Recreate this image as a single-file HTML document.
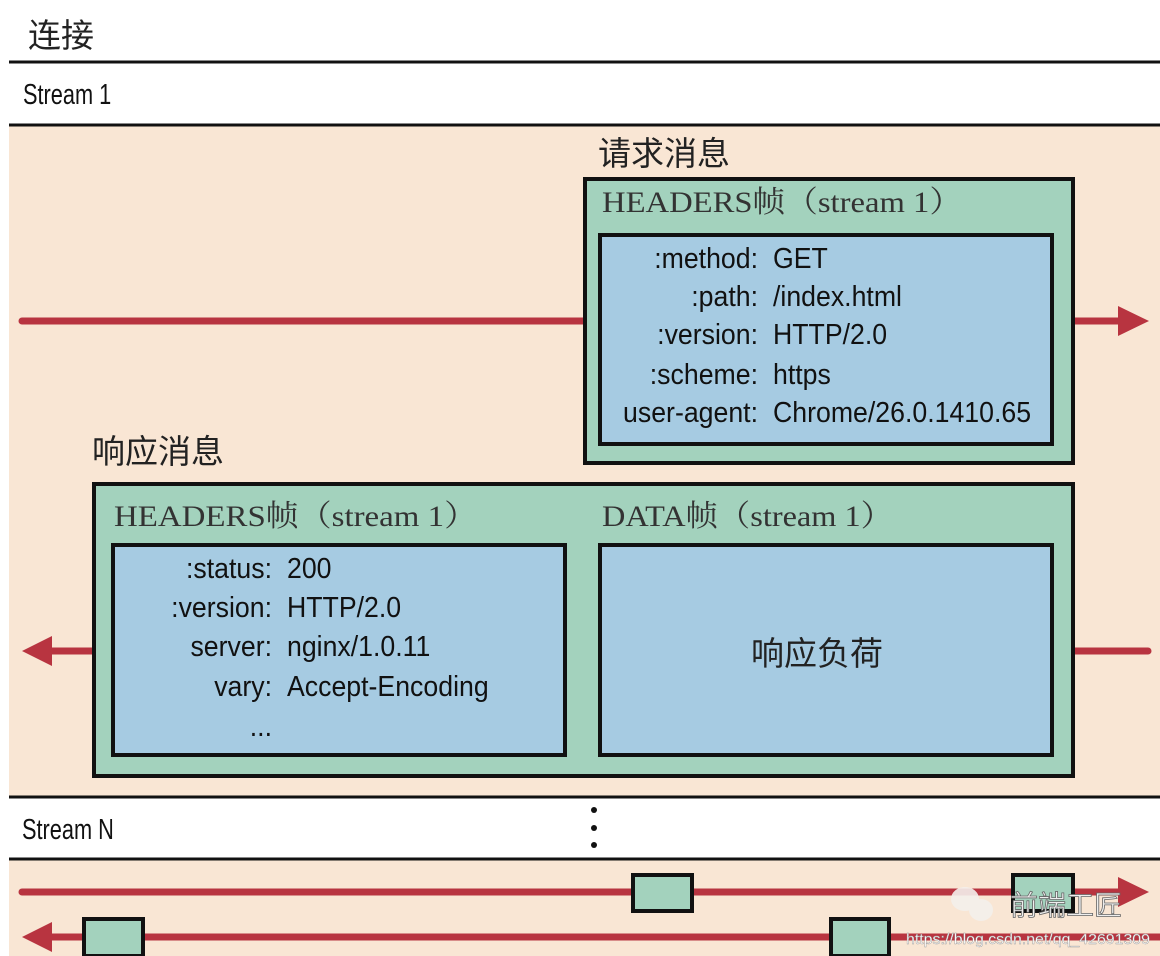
<!DOCTYPE html>
<html><head><meta charset="utf-8"><style>
html,body{margin:0;padding:0;background:#fff;width:1160px;height:956px;overflow:hidden}
.n{font-family:"Liberation Sans Narrow","Liberation Sans",sans-serif;font-size:29px;fill:#111}
.c{font-family:"Liberation Sans","Noto Sans CJK SC",sans-serif;font-size:33px;fill:#222}
.s{font-family:"Liberation Serif","Noto Serif CJK SC",serif;font-size:30px;fill:#333}
</style></head><body>
<svg width="1160" height="956" viewBox="0 0 1160 956" xmlns="http://www.w3.org/2000/svg">
<rect x="9" y="126" width="1151" height="670" fill="#f9e6d4"/>
<rect x="9" y="860" width="1151" height="96" fill="#f9e6d4"/>
<g stroke="#111" stroke-width="3">
<line x1="9" y1="62" x2="1160" y2="62"/>
<line x1="9" y1="125" x2="1160" y2="125"/>
<line x1="9" y1="797" x2="1160" y2="797"/>
<line x1="9" y1="859" x2="1160" y2="859"/>
</g>
<text x="28" y="47" class="c" font-size="34">连接</text>
<g transform="translate(23,0) scale(0.75,1)"><text x="0" y="104" class="n" font-size="31">Stream 1</text></g>
<g transform="translate(22,0) scale(0.75,1)"><text x="0" y="839" class="n" font-size="31">Stream N</text></g>
<g fill="#111"><circle cx="594" cy="810" r="3"/><circle cx="594" cy="828" r="3"/><circle cx="594" cy="845" r="3"/></g>
<g stroke="#b83440" stroke-width="7" stroke-linecap="round">
<line x1="22" y1="321" x2="586" y2="321"/>
<line x1="1072" y1="321" x2="1122" y2="321"/>
<line x1="46" y1="651" x2="95" y2="651"/>
<line x1="1072" y1="651" x2="1148" y2="651"/>
<line x1="22" y1="892" x2="1122" y2="892"/>
<line x1="46" y1="937" x2="1160" y2="937"/>
</g>
<g fill="#b83440">
<polygon points="1118,306 1149,321 1118,336"/>
<polygon points="52,636 22,651 52,666"/>
<polygon points="1118,877 1149,892 1118,907"/>
<polygon points="52,922 22,937 52,952"/>
</g>
<text x="598" y="165" class="c">请求消息</text>
<text x="92" y="463" class="c">响应消息</text>
<g stroke="#111" stroke-width="4">
<rect x="585" y="179" width="488" height="284" fill="#a3d2bd"/>
<rect x="600" y="235" width="452" height="209" fill="#a6cbe2"/>
<rect x="94" y="484" width="979" height="292" fill="#a3d2bd"/>
<rect x="113" y="545" width="452" height="210" fill="#a6cbe2"/>
<rect x="600" y="545" width="452" height="210" fill="#a6cbe2"/>
<rect x="633" y="875" width="59" height="36" fill="#a3d2bd"/>
<rect x="1013" y="875" width="60" height="36" fill="#a3d2bd"/>
<rect x="84" y="919" width="59" height="37" fill="#a3d2bd"/>
<rect x="831" y="919" width="58" height="37" fill="#a3d2bd"/>
</g>
<text x="602" y="212" class="s" textLength="360" lengthAdjust="spacingAndGlyphs">HEADERS帧（stream 1）</text>
<text x="114" y="526" class="s" textLength="363" lengthAdjust="spacingAndGlyphs">HEADERS帧（stream 1）</text>
<text x="602" y="526" class="s" textLength="291" lengthAdjust="spacingAndGlyphs">DATA帧（stream 1）</text>
<g transform="translate(758,0) scale(0.92,1)" class="n" text-anchor="end">
<text x="0" y="268">:method:</text>
<text x="0" y="306">:path:</text>
<text x="0" y="344">:version:</text>
<text x="0" y="384">:scheme:</text>
<text x="0" y="422">user-agent:</text>
</g>
<g transform="translate(272,0) scale(0.92,1)" class="n" text-anchor="end">
<text x="0" y="578">:status:</text>
<text x="0" y="617">:version:</text>
<text x="0" y="656">server:</text>
<text x="0" y="696">vary:</text>
<text x="0" y="736">...</text>
</g>
<g transform="translate(773,0) scale(0.92,1)" class="n">
<text x="0" y="268">GET</text>
<text x="0" y="306">/index.html</text>
<text x="0" y="344">HTTP/2.0</text>
<text x="0" y="384">https</text>
<text x="0" y="422">Chrome/26.0.1410.65</text>
</g>
<g transform="translate(287,0) scale(0.92,1)" class="n">
<text x="0" y="578">200</text>
<text x="0" y="617">HTTP/2.0</text>
<text x="0" y="656">nginx/1.0.11</text>
<text x="0" y="696">Accept-Encoding</text>
</g>
<text x="751" y="665" class="c" font-size="34" fill="#333">响应负荷</text>
<g fill="#f4f0ec" opacity="0.9"><ellipse cx="965" cy="899" rx="14" ry="12"/><ellipse cx="981" cy="910" rx="12" ry="11"/></g>
<text x="1010" y="915" font-family="Liberation Sans,'Noto Sans CJK SC',sans-serif" font-size="28" fill="#eee" stroke="#666" stroke-width="0.8" textLength="112" lengthAdjust="spacingAndGlyphs">前端工匠</text>
<text x="906" y="944" font-family="Liberation Sans,sans-serif" font-size="15" fill="#fff" stroke="#999" stroke-width="0.4" textLength="244" lengthAdjust="spacingAndGlyphs">https://blog.csdn.net/qq_42691309</text>
</svg>
</body></html>
